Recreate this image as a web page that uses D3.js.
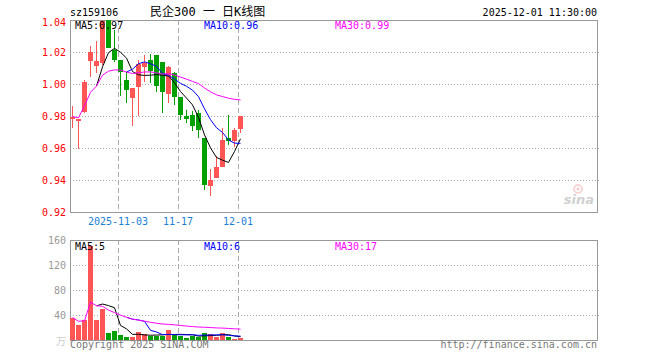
<!DOCTYPE html>
<html lang="zh">
<head>
<meta charset="utf-8"/>
<script src="https://d3js.org/d3.v7.min.js"></script>
<style>
    body { margin: 0; background: #fff; }
    text { font-family: "DejaVu Sans Mono", monospace; font-size: 10px; }
</style>
</head>
<body>
<script>
    // trading days shown on the chart
    var dates = ["2025-10-22", "2025-10-23", "2025-10-24", "2025-10-27", "2025-10-28", "2025-10-29",
        "2025-10-30", "2025-10-31", "2025-11-03", "2025-11-04", "2025-11-05", "2025-11-06", "2025-11-07",
        "2025-11-10", "2025-11-11", "2025-11-12", "2025-11-13", "2025-11-14", "2025-11-17", "2025-11-18",
        "2025-11-19", "2025-11-20", "2025-11-21", "2025-11-24", "2025-11-25", "2025-11-26", "2025-11-27",
        "2025-11-28", "2025-12-01"];

    // daily prices
    var openP = [0.9780, 0.9767, 0.9827, 1.0144, 1.0113, 1.0133, 1.0398, 1.0213, 1.0148, 1.0025,
        0.9913, 0.9979, 1.0104, 1.0150, 1.0183, 1.0140, 0.9936, 1.0069, 0.9919, 0.9798,
        0.9808, 0.9819, 0.9663, 0.9365, 0.9413, 0.9481, 0.9663, 0.9642, 0.9719];
    var highP = [0.9863, 0.9781, 1.0025, 1.0235, 1.0268, 1.0400, 1.0400, 1.0335, 1.0150, 1.0077,
        0.9975, 1.0150, 1.0180, 1.0185, 1.0183, 1.0140, 1.0110, 1.0075, 0.9919, 0.9840,
        0.9830, 0.9838, 0.9663, 0.9469, 0.9548, 0.9725, 0.9808, 0.9725, 0.9798];
    var lowP = [0.9723, 0.9592, 0.9820, 1.0046, 1.0067, 1.0120, 1.0225, 1.0140, 0.9925, 0.9880,
        0.9740, 0.9800, 1.0015, 1.0006, 0.9950, 0.9820, 0.9880, 0.9870, 0.9777, 0.9756,
        0.9704, 0.9660, 0.9340, 0.9302, 0.9410, 0.9480, 0.9620, 0.9606, 0.9694];
    var closeP = [0.9796, 0.9781, 1.0015, 1.0200, 1.0144, 1.0395, 1.0227, 1.0148, 1.0077, 0.9963,
        0.9975, 1.0125, 1.0129, 1.0083, 0.9985, 0.9948, 1.0105, 0.9919, 0.9808, 0.9781,
        0.9735, 0.9715, 0.9371, 0.9402, 0.9481, 0.9652, 0.9642, 0.9715, 0.9798];
    // volume in 万
    var volume = [36, 24, 32, 150, 32, 49.6, 11.7, 15, 8, 4.8, 5.3, 12.8, 9.6, 5.9, 5.9, 7, 16, 9.6,
        7, 3.5, 6, 5, 12, 9, 5.5, 11, 5.5, 1.5, 3];

    var priceTicks = [0.92, 0.94, 0.96, 0.98, 1.00, 1.02, 1.04];
    var volTicks = [40, 80, 120, 160];
    var dateTicks = ["2025-11-03", "2025-11-17", "2025-12-01"];
    var dateTickLabels = ["2025-11-03", "11-17", "12-01"];

    var up = "#ff5555", down = "#00a000";
    var maColors = {5: "#000", 10: "#0000ff", 30: "#ff00ff"};

    var left = 70, right = 597;
    var svg = d3.select("body").append("svg")
        .attr("width", 660)
        .attr("height", 360);

    var x = d3.scaleBand()
        .domain(dates)
        .range([left, left + dates.length * 6 - 1])
        .paddingInner(1 / 6)
        .paddingOuter(0);
    var y = d3.scaleLinear().domain([0.92, 1.04]).range([212, 20]);
    var yv = d3.scaleLinear().domain([0, 160]).range([340, 240]);

    // moving average; fewer than n days -> n days required except for MA30 (running mean)
    function movingAvg(arr, n, partial) {
        return arr.map(function(v, i) {
            if (i < n - 1 && !partial) return null;
            var s = arr.slice(Math.max(0, i - n + 1), i + 1);
            return d3.mean(s);
        });
    }

    var idx = d3.range(dates.length);
    function cx(i) { return x(dates[i]) + x.bandwidth() / 2; }
    function isUp(i) { return closeP[i] >= openP[i]; }

    // header texts
    svg.append("text").attr("x", left).attr("y", 16).text("sz159106");
    svg.append("text").attr("x", 150).attr("y", 16)
        .style("font-family", "'DejaVu Sans Mono', 'Noto Sans CJK SC'")
        .style("font-size", "12px")
        .text("民企300 一 日K线图");
    svg.append("text").attr("x", right).attr("y", 16).attr("text-anchor", "end")
        .text("2025-12-01 11:30:00");

    function drawPanel(top, bottom, scale, ticks) {
        svg.append("g").selectAll("line")
            .data(ticks.filter(function(t) { return Math.round(scale(t)) > top && Math.round(scale(t)) < bottom; }))
            .enter().append("line")
            .attr("x1", left).attr("x2", right + 2)
            .attr("y1", function(d) { return Math.round(scale(d)) + 0.5; })
            .attr("y2", function(d) { return Math.round(scale(d)) + 0.5; })
            .style("stroke", "#aaa")
            .style("stroke-dasharray", "1,2");
        svg.append("g").selectAll("line")
            .data(dateTicks)
            .enter().append("line")
            .attr("x1", function(d) { return x(d) + 0.5; })
            .attr("x2", function(d) { return x(d) + 0.5; })
            .attr("y1", top).attr("y2", bottom)
            .style("stroke", "#aaa")
            .style("stroke-dasharray", "5,3");
        svg.append("rect")
            .attr("x", left + 0.5).attr("y", top + 0.5)
            .attr("width", right - left).attr("height", bottom - top)
            .style("fill", "none").style("stroke", "#999");
    }

    drawPanel(20, 212, y, priceTicks);
    drawPanel(240, 340, yv, volTicks);

    // sina watermark
    var logo = svg.append("g").attr("opacity", 0.45);
    logo.append("circle").attr("cx", 578).attr("cy", 189).attr("r", 4)
        .style("fill", "none").style("stroke", "#e88").style("stroke-width", 1.5);
    logo.append("circle").attr("cx", 578).attr("cy", 189).attr("r", 1.5).style("fill", "#e88");
    logo.append("text").attr("x", 594).attr("y", 204).attr("text-anchor", "end")
        .style("font-family", "'DejaVu Sans'").style("font-size", "13px")
        .style("font-weight", "bold").style("font-style", "italic")
        .style("fill", "#999").text("sina");

    // price axis labels
    svg.append("g").selectAll("text")
        .data(priceTicks)
        .enter().append("text")
        .attr("x", 66)
        .attr("y", function(d) { return d === 1.04 ? y(d) + 6 : y(d) + 4; })
        .attr("text-anchor", "end")
        .style("fill", "#f00")
        .text(function(d) { return d.toFixed(2); });

    // date labels
    svg.append("g").selectAll("text")
        .data(dateTicks)
        .enter().append("text")
        .attr("x", function(d) { return x(d); })
        .attr("y", 225)
        .attr("text-anchor", "middle")
        .style("fill", "#1a80d4")
        .text(function(d, i) { return dateTickLabels[i]; });

    // volume axis labels
    svg.append("g").selectAll("text")
        .data(volTicks)
        .enter().append("text")
        .attr("x", 66)
        .attr("y", function(d) { return yv(d) + 4; })
        .attr("text-anchor", "end")
        .style("fill", "#999")
        .text(function(d) { return d; });
    svg.append("text").attr("x", 66).attr("y", 345).attr("text-anchor", "end")
        .style("fill", "#ccc")
        .style("font-family", "'Noto Sans CJK SC'")
        .text("万");

    // candles: wicks then bodies
    svg.append("g").selectAll("line")
        .data(idx)
        .enter().append("line")
        .attr("x1", function(i) { return Math.floor(cx(i)) + 0.5; })
        .attr("x2", function(i) { return Math.floor(cx(i)) + 0.5; })
        .attr("y1", function(i) { return Math.round(y(highP[i])); })
        .attr("y2", function(i) { return Math.round(y(lowP[i])); })
        .style("stroke", function(i) { return isUp(i) ? up : down; });
    svg.append("g").selectAll("rect")
        .data(idx)
        .enter().append("rect")
        .attr("x", function(i) { return x(dates[i]); })
        .attr("width", x.bandwidth())
        .attr("y", function(i) { return Math.round(y(Math.max(openP[i], closeP[i]))); })
        .attr("height", function(i) {
            return Math.max(1, Math.round(y(Math.min(openP[i], closeP[i]))) - Math.round(y(Math.max(openP[i], closeP[i]))));
        })
        .style("fill", function(i) { return isUp(i) ? up : down; });

    // volume bars
    svg.append("g").selectAll("rect")
        .data(idx)
        .enter().append("rect")
        .attr("x", function(i) { return x(dates[i]); })
        .attr("width", x.bandwidth())
        .attr("y", function(i) { return Math.round(yv(volume[i])); })
        .attr("height", function(i) { return 340 - Math.round(yv(volume[i])); })
        .style("fill", function(i) { return isUp(i) ? up : down; });

    // moving average lines
    function drawMA(arr, scale) {
        var out = {};
        [5, 10, 30].forEach(function(n) {
            var ma = movingAvg(arr, n, n === 30);
            out[n] = ma[ma.length - 1];
            var line = d3.line()
                .defined(function(d) { return d !== null; })
                .x(function(d, i) { return cx(i); })
                .y(function(d) { return scale(d); });
            svg.append("path")
                .datum(ma)
                .attr("d", line)
                .style("fill", "none")
                .style("stroke", maColors[n])
                .style("stroke-width", 1);
        });
        return out;
    }

    var priceMA = drawMA(closeP, y);
    var volMA = drawMA(volume, yv);

    function legend(ma, yPos, fmt) {
        var xs = {5: 75, 10: 204, 30: 335};
        [5, 10, 30].forEach(function(n) {
            svg.append("text")
                .attr("x", xs[n]).attr("y", yPos)
                .style("fill", maColors[n])
                .text("MA" + n + ":" + fmt(ma[n]));
        });
    }
    legend(priceMA, 29, function(v) { return v.toFixed(2); });
    legend(volMA, 250, function(v) { return Math.round(v); });

    // footer
    svg.append("text").attr("x", left).attr("y", 348).style("fill", "#777")
        .text("Copyright 2025 SINA.COM");
    svg.append("text").attr("x", right).attr("y", 348).attr("text-anchor", "end").style("fill", "#777")
        .text("http://finance.sina.com.cn");
</script>
</body>
</html>
